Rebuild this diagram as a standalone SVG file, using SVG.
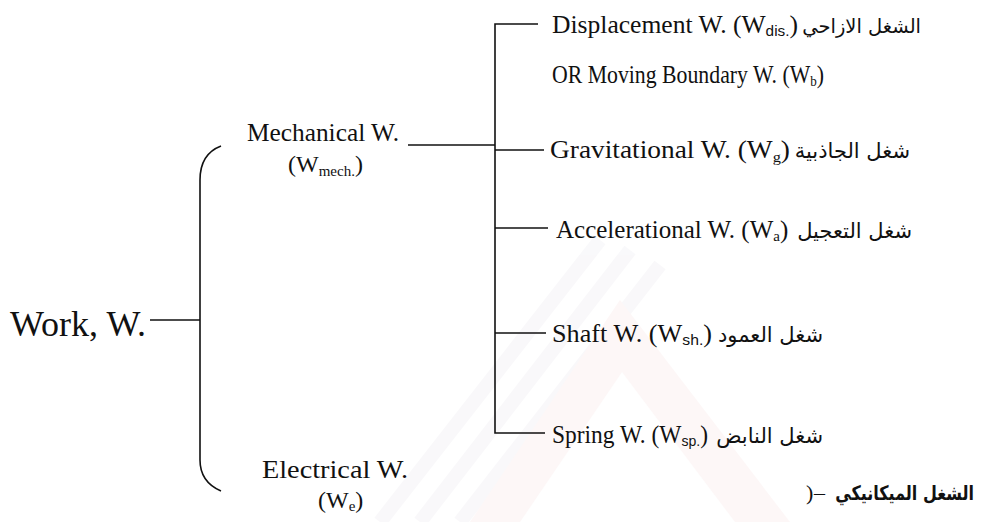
<svg xmlns="http://www.w3.org/2000/svg" width="997" height="522" viewBox="0 0 997 522">
<style>
.en{font-family:"Liberation Serif","Times New Roman",serif;fill:#111;}
.ar{font-family:"DejaVu Sans",sans-serif;fill:#111;}
.ln{stroke:#111;stroke-width:1.6;fill:none;}
.sub{font-size:15px;}
.wm{fill:none;stroke-width:14;}
</style>
<rect width="997" height="522" fill="#fff"/>
<g id="watermark" opacity="0.4">
<path class="wm" stroke="#f1eff4" d="M380,522 L600,240 M420,522 L630,250 M460,522 L660,265"/>
<path d="M470,522 L620,300 L790,522 Z" fill="#fbecec"/>
<path d="M520,522 L622,372 L735,522 Z" fill="#fff"/>
</g>
<g id="connectors">
<path class="ln" d="M150,320 H200"/>
<path class="ln" d="M221,146 Q200,154 200,180 V460 Q200,482 221,491"/>
<path class="ln" d="M408,145 H495"/>
<path class="ln" d="M538,24 H495 V433 H545"/>
<path class="ln" d="M495,150 H544"/>
<path class="ln" d="M495,228 H548"/>
<path class="ln" d="M495,333 H546"/>
</g>
<g id="work"><text class="en" x="10" y="336" font-size="36">Work, W.</text></g>
<g id="mechanical">
<text class="en" x="247" y="141" font-size="25" textLength="152" lengthAdjust="spacingAndGlyphs">Mechanical W.</text>
<text class="en" x="288" y="172" font-size="24">(W<tspan class="sub" dy="4">mech.</tspan><tspan dy="-4">)</tspan></text>
</g>
<g id="electrical">
<text class="en" x="262" y="478" font-size="25" textLength="146" lengthAdjust="spacingAndGlyphs">Electrical W.</text>
<text class="en" x="318" y="508" font-size="24">(W<tspan class="sub" dy="3">e</tspan><tspan dy="-3">)</tspan></text>
</g>
<g id="displacement">
<text class="en" x="552" y="33" font-size="25" textLength="246" lengthAdjust="spacingAndGlyphs">Displacement W. (W<tspan class="sub" font-family="Liberation Sans" dy="3">dis.</tspan><tspan dy="-3">)</tspan></text>
<text class="ar" x="921" y="33" font-size="19.5" text-anchor="end">الشغل الازاحي</text>
<text class="en" x="552" y="83" font-size="25" textLength="272" lengthAdjust="spacingAndGlyphs">OR Moving Boundary W. (W<tspan class="sub" dy="3">b</tspan><tspan dy="-3">)</tspan></text>
</g>
<g id="gravitational">
<text class="en" x="550" y="158" font-size="25" textLength="240" lengthAdjust="spacingAndGlyphs">Gravitational W. (W<tspan class="sub" dy="4">g</tspan><tspan dy="-4">)</tspan></text>
<text class="ar" x="910" y="158" font-size="21" text-anchor="end">شغل الجاذبية</text>
</g>
<g id="acceleration">
<text class="en" x="556" y="238" font-size="25">Accelerational W. (W<tspan class="sub" dy="3">a</tspan><tspan dy="-3">)</tspan></text>
<text class="ar" x="912" y="238" font-size="21" text-anchor="end">شغل التعجيل</text>
</g>
<g id="shaft">
<text class="en" x="552" y="342" font-size="25" textLength="160" lengthAdjust="spacingAndGlyphs">Shaft W. (W<tspan class="sub" font-family="Liberation Sans" dy="3">sh.</tspan><tspan dy="-3">)</tspan></text>
<text class="ar" x="823" y="342" font-size="21" text-anchor="end">شغل العمود</text>
</g>
<g id="spring">
<text class="en" x="552" y="443" font-size="25" textLength="156" lengthAdjust="spacingAndGlyphs">Spring W. (W<tspan class="sub" font-family="Liberation Sans" dy="3">sp.</tspan><tspan dy="-3">)</tspan></text>
<text class="ar" x="823" y="443" font-size="21" text-anchor="end">شغل النابض</text>
</g>
<g id="caption">
<text class="en" x="806" y="500" font-size="22">)</text>
<text class="en" x="814" y="500" font-size="22">–</text>
<text class="ar" transform="translate(974,500) scale(0.8,1)" font-size="20" font-weight="bold" text-anchor="end">الشغل الميكانيكي</text>
</g>
</svg>
